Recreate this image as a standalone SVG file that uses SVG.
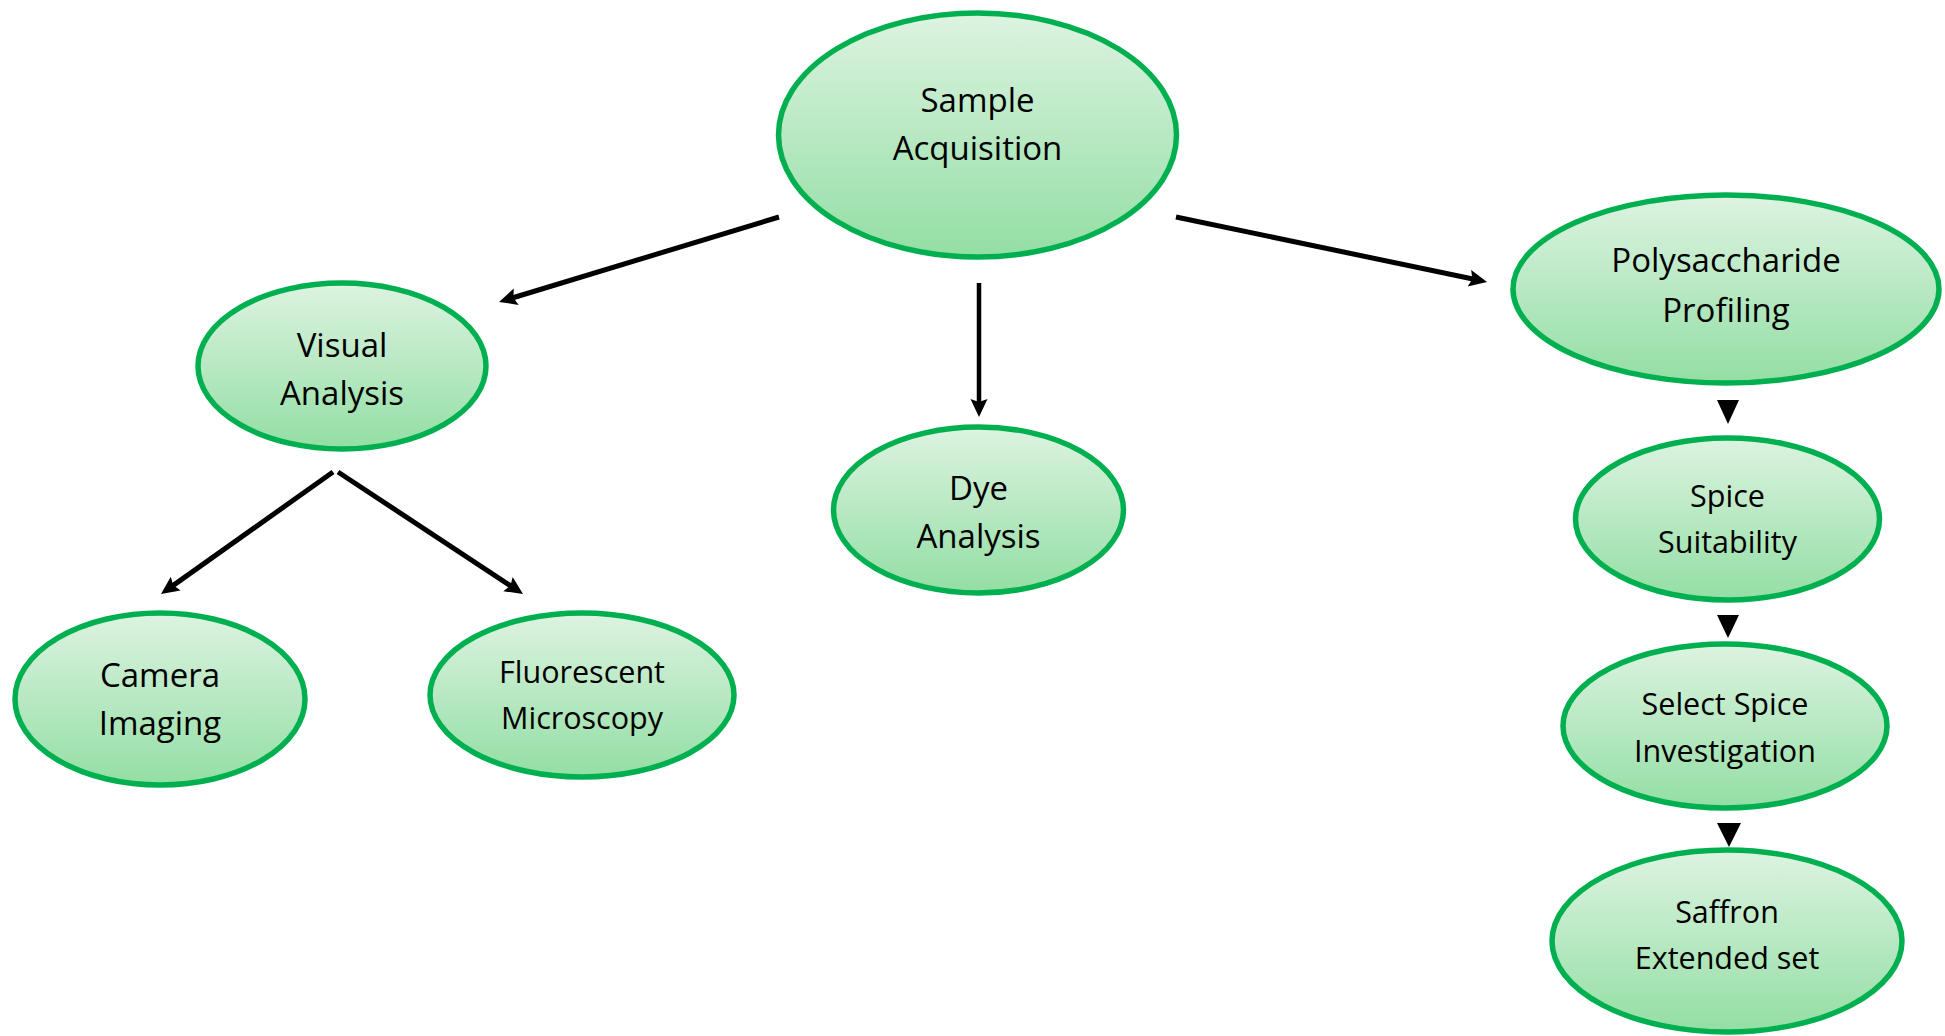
<svg xmlns="http://www.w3.org/2000/svg" width="1945" height="1036" viewBox="0 0 1945 1036">
<defs>
  <linearGradient id="g" x1="0" y1="0" x2="0" y2="1">
    <stop offset="0" stop-color="#ddf3e1"/>
    <stop offset="1" stop-color="#93dea4"/>
  </linearGradient>
  <marker id="ah" markerUnits="userSpaceOnUse" markerWidth="20" markerHeight="18" refX="6" refY="8.5" orient="auto" viewBox="0 0 20 18">
    <path d="M0,0 L18,8.5 L0,17 L3,8.5 z" fill="#000"/>
  </marker>
  <style>
    .n ellipse { fill: url(#g); stroke: #00b050; stroke-width: 5.5; }
    .n text { font-family: "Open Sans", "Noto Sans", sans-serif; font-size: 33px; fill: #000; text-anchor: middle; }
    .s text { font-size: 30.5px; }
    .c line { stroke: #000; stroke-width: 5; marker-end: url(#ah); }
    .c polygon { fill: #000; }
  </style>
</defs>
<rect width="1945" height="1036" fill="#fff"/>
<g id="connectors" class="c">
  <line x1="779" y1="217" x2="510.5" y2="298.5"/>
  <line x1="979" y1="283" x2="979" y2="405" style="stroke-width:4.5"/>
  <line x1="1176" y1="217" x2="1475.3" y2="279.5"/>
  <line x1="333" y1="472" x2="170.8" y2="587.1"/>
  <line x1="338" y1="472" x2="513" y2="587.4"/>
  <polygon points="1717,400 1739,400 1728,424"/>
  <polygon points="1717,615 1739,615 1728,638"/>
  <polygon points="1717,823 1741,823 1729,847"/>
</g>
<g id="sample-acquisition" class="n">
  <ellipse cx="977.5" cy="135" rx="199" ry="122"/>
  <text x="977.5" y="112">Sample</text>
  <text x="977.5" y="160">Acquisition</text>
</g>
<g id="visual-analysis" class="n">
  <ellipse cx="342" cy="366" rx="144" ry="83"/>
  <text x="342" y="357">Visual</text>
  <text x="342" y="405">Analysis</text>
</g>
<g id="dye-analysis" class="n">
  <ellipse cx="978.5" cy="510" rx="145" ry="83"/>
  <text x="978.5" y="500">Dye</text>
  <text x="978.5" y="548">Analysis</text>
</g>
<g id="camera-imaging" class="n">
  <ellipse cx="160" cy="699" rx="145" ry="86"/>
  <text x="160" y="687">Camera</text>
  <text x="160" y="735">Imaging</text>
</g>
<g id="fluorescent-microscopy" class="n s">
  <ellipse cx="582" cy="695" rx="152" ry="82"/>
  <text x="582" y="683">Fluorescent</text>
  <text x="582" y="729">Microscopy</text>
</g>
<g id="polysaccharide-profiling" class="n">
  <ellipse cx="1726" cy="289" rx="213" ry="94"/>
  <text x="1726" y="272">Polysaccharide</text>
  <text x="1726" y="322">Profiling</text>
</g>
<g id="spice-suitability" class="n s">
  <ellipse cx="1727.5" cy="519" rx="152" ry="81"/>
  <text x="1727.5" y="507">Spice</text>
  <text x="1727.5" y="553">Suitability</text>
</g>
<g id="select-spice-investigation" class="n s">
  <ellipse cx="1725" cy="726" rx="162" ry="82"/>
  <text x="1725" y="715">Select Spice</text>
  <text x="1725" y="762">Investigation</text>
</g>
<g id="saffron-extended-set" class="n s">
  <ellipse cx="1727" cy="941" rx="175" ry="91"/>
  <text x="1727" y="923">Saffron</text>
  <text x="1727" y="969">Extended set</text>
</g>
</svg>
